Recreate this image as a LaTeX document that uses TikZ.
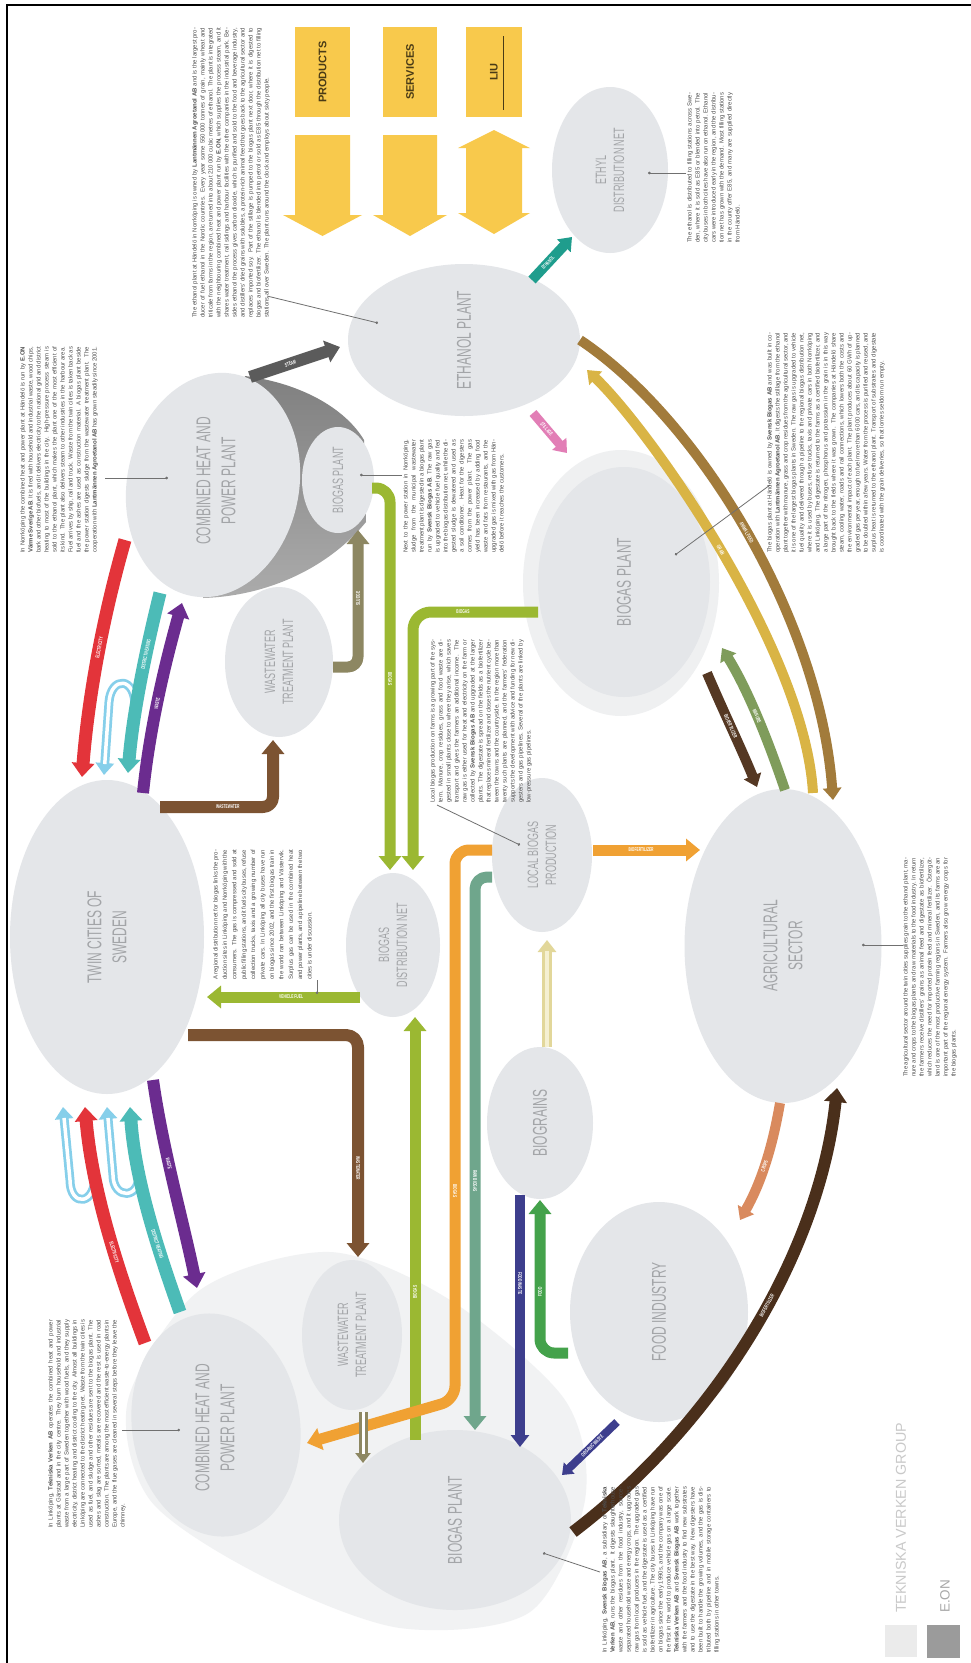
\documentclass[tikz,border=0pt]{standalone}
\usepackage{fontspec}
\setmainfont{Liberation Sans}
\newfontfamily\condensed[FakeStretch=0.6]{Liberation Sans}
\usetikzlibrary{arrows.meta,shapes.geometric}
\definecolor{blobc}{HTML}{E4E6E9}
\definecolor{lbltext}{HTML}{A3A5A8}
\definecolor{haloc}{HTML}{EFF0F1}
\definecolor{bighalo}{HTML}{F1F2F3}
\definecolor{coneA}{HTML}{808080}
\definecolor{coneB}{HTML}{ABABAB}
\definecolor{cRed}{HTML}{E3343A}
\definecolor{cTeal}{HTML}{4CBBB7}
\definecolor{cLB}{HTML}{86CFEA}
\definecolor{cPur}{HTML}{6B2C8F}
\definecolor{cBrn}{HTML}{7C5332}
\definecolor{cOlv}{HTML}{8D8762}
\definecolor{cGrn}{HTML}{9BB832}
\definecolor{cOra}{HTML}{F0A133}
\definecolor{cSage}{HTML}{6FA68C}
\definecolor{cPale}{HTML}{E2D79A}
\definecolor{cPaleIn}{HTML}{F5F0D2}
\definecolor{cNavy}{HTML}{3D3E8D}
\definecolor{cGrnF}{HTML}{44A24B}
\definecolor{cDbr}{HTML}{4A2F1B}
\definecolor{cSal}{HTML}{D98A5E}
\definecolor{cBrU}{HTML}{553823}
\definecolor{cOlV}{HTML}{7F9C5B}
\definecolor{cGold}{HTML}{D9B445}
\definecolor{cBGold}{HTML}{A27B3B}
\definecolor{cPink}{HTML}{E27EB6}
\definecolor{cTealZ}{HTML}{1F9D8D}
\definecolor{cSteam}{HTML}{5B5B5B}
\definecolor{yel}{HTML}{F8C94C}
\definecolor{ytext}{HTML}{4A3B16}
\definecolor{bodyc}{HTML}{4E4E4E}
\definecolor{ptrc}{HTML}{707070}
\definecolor{legl}{HTML}{EBEBEB}
\definecolor{legd}{HTML}{9B9B9B}
\definecolor{legtxt}{HTML}{C9C9C9}
\definecolor{legtxtb}{HTML}{A8A8A8}
\begin{document}
\begin{tikzpicture}[x=1pt,y=-1pt,
  blob/.style={ellipse, fill=blobc, inner sep=0pt, outer sep=0pt},
  bigtxt/.style={font=\condensed\fontsize{20}{25}\selectfont, text=lbltext, align=center},
  smalltxt/.style={font=\condensed\fontsize{15}{18}\selectfont, text=lbltext, align=center},
  flowlbl/.style={font=\condensed\bfseries\fontsize{5.5}{5.5}\selectfont, text=white, sloped, inner sep=0pt},
  textblk/.style={rotate=90, anchor=north west, inner sep=0pt, text=bodyc, align=justify, font=\fontsize{6}{8}\selectfont},
  ptr/.style={draw=ptrc, line width=0.8pt, -{Circle[length=2.6pt]}},
  band/.style={line width=#1, line cap=butt, line join=round},
  tipL/.style={-{Triangle[width=22pt,length=14pt]}},
  tipM/.style={-{Triangle[width=18pt,length=12pt]}},
  tipS/.style={-{Triangle[width=15pt,length=10pt]}},
  ybox/.style={rectangle, fill=yel, inner sep=0pt, text=ytext, font=\bfseries\fontsize{11}{12}\selectfont}
]
\useasboundingbox (0,0) rectangle (971,1663);
\fill[white] (0,0) rectangle (971,1663);
\draw[line width=2pt] (7,1663) -- (7,5) -- (971,5);

% ---------- soft backdrops ----------
\fill[bighalo] plot[smooth cycle] coordinates {(200,1290) (330,1252) (450,1300) (565,1400) (585,1500) (530,1612) (400,1628) (260,1575) (150,1500) (128,1400)};
\node[blob, fill=haloc, rotate=90, minimum width=266pt, minimum height=196pt] (bgRhalo) at (621,583) {};
\shade[top color=coneA, bottom color=coneB] (245,376) .. controls (300,383) and (345,408) .. (364,440) -- (366,522) .. controls (330,566) and (270,596) .. (203,598) -- cycle;

% ---------- plants and sectors ----------
\node[blob, bigtxt, rotate=90, minimum width=314pt, minimum height=194pt] (twin) at (107,937) {TWIN CITIES OF\\SWEDEN};
\node[blob, rotate=79, minimum width=226pt, minimum height=172pt] (chpT) at (213,485) {};
\node[bigtxt, rotate=90] (chpTlbl) at (216,481) {COMBINED HEAT AND\\POWER PLANT};
\node[blob, smalltxt, rotate=90, minimum width=106pt, minimum height=72pt] (bgS) at (338,480) {BIOGAS PLANT};
\node[blob, smalltxt, rotate=90, minimum width=150pt, minimum height=108pt] (wwT) at (279,662) {WASTEWATER\\TREATMENT PLANT};
\node[blob, bigtxt, rotate=90, minimum width=152pt, minimum height=232pt] (eth) at (464,340) {ETHANOL PLANT};
\node[blob, smalltxt, rotate=90, minimum width=166pt, minimum height=116pt] (ethD) at (610,170) {ETHYL\\DISTRIBUTION NET};
\node[blob, bigtxt, rotate=90, minimum width=230pt, minimum height=172pt] (bgR) at (624,582) {BIOGAS PLANT};
\node[blob, smalltxt, rotate=90, minimum width=144pt, minimum height=94pt] (bgD) at (393,945) {BIOGAS\\DISTRIBUTION NET};
\node[blob, smalltxt, rotate=90, minimum width=154pt, minimum height=100pt] (loc) at (542,855) {LOCAL BIOGAS\\PRODUCTION};
\node[blob, bigtxt, rotate=90, minimum width=314pt, minimum height=197pt] (agri) at (783,946) {AGRICULTURAL\\SECTOR};
\node[blob, bigtxt, rotate=90, minimum width=152pt, minimum height=106pt] (grain) at (540,1123) {BIOGRAINS};
\node[blob, bigtxt, rotate=90, minimum width=220pt, minimum height=178pt] (food) at (659,1312) {FOOD INDUSTRY};
\node[blob, smalltxt, rotate=90, minimum width=150pt, minimum height=100pt] (wwB) at (352,1335) {WASTEWATER\\TREATMENT PLANT};
\node[blob, rotate=98, minimum width=224pt, minimum height=168pt] (chpB) at (216,1425) {};
\node[bigtxt, rotate=90] (chpBlbl) at (215,1428) {COMBINED HEAT AND\\POWER PLANT};
\node[blob, bigtxt, rotate=90, minimum width=180pt, minimum height=232pt] (bgB) at (455,1520) {BIOGAS PLANT};

% ---------- connector end points ----------
\coordinate (r1-s) at (125,540);  \coordinate (r1-e) at (82,777);
\coordinate (t1-s) at (160,593);  \coordinate (t1-e) at (128,773);
\coordinate (lb1-s) at (135,708); \coordinate (lb1-e) at (104,775);
\coordinate (p1-s) at (143,793);  \coordinate (p1-e) at (182,603);
\coordinate (r2-s) at (145,1343); \coordinate (r2-e) at (85,1107);
\coordinate (t2-s) at (180,1312); \coordinate (t2-e) at (130,1107);
\coordinate (lb2-s) at (95,1172); \coordinate (lb2-e) at (63,1107);
\coordinate (lb3-s) at (139,1172);\coordinate (lb3-e) at (107,1107);
\coordinate (p2-s) at (153,1080); \coordinate (p2-e) at (197,1288);
\coordinate (w1-s) at (160,807);  \coordinate (w1-e) at (273,740);
\coordinate (s1-s) at (333,667);  \coordinate (s1-e) at (358,530);
\coordinate (g1-s) at (372,488);  \coordinate (g1-e) at (390,870);
\coordinate (g2-s) at (538,612);  \coordinate (g2-e) at (413,870);
\coordinate (g3-s) at (360,997);  \coordinate (g3-e) at (207,997);
\coordinate (w2-s) at (188,1035); \coordinate (w2-e) at (358,1257);
\coordinate (g4-s) at (415,1440); \coordinate (g4-e) at (415,1017);
\coordinate (o1-s) at (492,850);  \coordinate (o1-e) at (307,1443);
\coordinate (m1-s) at (492,877);  \coordinate (m1-e) at (475,1430);
\coordinate (o2-s) at (593,850);  \coordinate (o2-e) at (700,850);
\coordinate (pl-s) at (547,1047); \coordinate (pl-e) at (547,940);
\coordinate (n1-s) at (520,1195); \coordinate (n1-e) at (520,1447);
\coordinate (f1-s) at (568,1353); \coordinate (f1-e) at (540,1200);
\coordinate (n2-s) at (617,1422); \coordinate (n2-e) at (562,1475);
\coordinate (d1-s) at (573,1532); \coordinate (d1-e) at (837,1088);
\coordinate (sa-s) at (780,1103); \coordinate (sa-e) at (740,1220);
\coordinate (u1-s) at (707,673);  \coordinate (u1-e) at (757,787);
\coordinate (v1-s) at (785,790);  \coordinate (v1-e) at (722,648);
\coordinate (go-s) at (813,793);  \coordinate (go-e) at (587,370);
\coordinate (bg-s) at (580,340);  \coordinate (bg-e) at (833,800);
\coordinate (pk-s) at (533,413);  \coordinate (pk-e) at (567,453);
\coordinate (tz-s) at (532,280);  \coordinate (tz-e) at (572,237);
\coordinate (st-s) at (250,377);  \coordinate (st-e) at (340,347);
\coordinate (ob-s) at (363,1412); \coordinate (ob-e) at (363,1463);

% ---------- flows between the CHP plants and the twin cities ----------
\draw[band=9pt, cLB, tipM, postaction={draw=white, line width=3.5pt, -, shorten >=11pt}] (lb1-s) .. controls (136,676) and (111,676) .. (109,702) -- (lb1-e);
\draw[band=13pt, cRed, tipL] (r1-s) .. controls (102,620) and (88,700) .. (r1-e) node[flowlbl, pos=0.45] {ELECTRICITY};
\draw[band=13pt, cTeal, tipL] (t1-s) .. controls (146,650) and (133,712) .. (t1-e) node[flowlbl, pos=0.35] {DISTRICT HEATING};
\draw[band=12pt, cPur, tipL] (p1-s) .. controls (150,725) and (166,660) .. (p1-e) node[flowlbl, pos=0.45] {WASTE};

\draw[band=9pt, cLB, tipM, postaction={draw=white, line width=3.5pt, -, shorten >=11pt}] (lb2-s) .. controls (97,1206) and (70,1208) .. (70,1180) -- (lb2-e);
\draw[band=9pt, cLB, tipM, postaction={draw=white, line width=3.5pt, -, shorten >=11pt}] (lb3-s) .. controls (141,1200) and (113,1200) .. (113,1175) -- (lb3-e);
\draw[band=13pt, cRed, tipL] (r2-s) .. controls (118,1270) and (92,1190) .. (r2-e) node[flowlbl, pos=0.4] {ELECTRICITY};
\draw[band=13pt, cTeal, tipL] (t2-s) .. controls (158,1250) and (135,1180) .. (t2-e) node[flowlbl, pos=0.35] {DISTRICT HEATING};
\draw[band=12pt, cPur, tipL] (p2-s) .. controls (163,1150) and (183,1220) .. (p2-e) node[flowlbl, pos=0.4] {WASTE};

% ---------- wastewater, sludge and biogas ----------
\draw[band=12pt, cBrn, tipL, rounded corners=10pt] (w1-s) -| (w1-e) node[flowlbl, pos=0.3] {WASTEWATER};
\draw[band=11pt, cOlv, tipL, rounded corners=10pt] (s1-s) -| (s1-e) node[flowlbl, pos=0.75] {SLUDGE};
\draw[band=11pt, cGrn, tipL, rounded corners=14pt] (g1-s) -| (g1-e) node[flowlbl, pos=0.75] {BIOGAS};
\draw[band=11pt, cGrn, tipL, rounded corners=18pt] (g2-s) -| (g2-e) node[flowlbl, pos=0.3] {BIOGAS};
\draw[band=11pt, cGrn, tipL] (g3-s) -- (g3-e) node[flowlbl, pos=0.45] {VEHICLE FUEL};
\draw[band=12pt, cBrn, tipL, rounded corners=12pt] (w2-s) -| (w2-e) node[flowlbl, pos=0.8] {WASTEWATER};
\draw[band=11pt, cGrn, tipL] (g4-s) -- (g4-e) node[flowlbl, pos=0.35] {BIOGAS};
\draw[band=11pt, cOra, tipL, rounded corners=14pt] (o1-s) -- (455,850) -- (455,1400) node[flowlbl, pos=0.62] {BIOGAS} -- (o1-e);
\draw[band=11pt, cSage, tipL, rounded corners=12pt] (m1-s) -- (475,877) -- (m1-e) node[flowlbl, pos=0.55] {RAW BIOGAS};
\draw[band=11pt, cOra, tipL] (o2-s) -- (o2-e) node[flowlbl, pos=0.45] {BIOFERTILIZER};
\draw[band=10pt, cPale, tipM, postaction={draw=cPaleIn, line width=4pt, -, shorten >=11pt}] (pl-s) -- (pl-e);
\draw[band=10pt, cNavy, tipM] (n1-s) -- (n1-e) node[flowlbl, pos=0.35] {FOOD WASTE};
\draw[band=11pt, cGrnF, tipL, rounded corners=14pt] (f1-s) -| (f1-e) node[flowlbl, pos=0.7] {FOOD};
\draw[band=8pt, cNavy, tipS] (n2-s) -- (n2-e) node[flowlbl, pos=0.45] {ORGANIC WASTE};
\draw[band=9pt, cOlv, tipS, postaction={draw=white, line width=3pt, -, shorten >=9pt}] (ob-s) -- (ob-e);

% ---------- agriculture, ethanol and food ----------
\draw[band=12pt, cDbr, tipL] (d1-s) .. controls (720,1420) and (820,1250) .. (d1-e) node[flowlbl, pos=0.55] {BIOFERTILIZER};
\draw[band=10pt, cSal, tipM] (sa-s) .. controls (772,1150) and (760,1185) .. (sa-e) node[flowlbl, pos=0.5] {CROPS};
\draw[band=10pt, cBrU, tipM] (u1-s) .. controls (725,715) and (742,750) .. (u1-e) node[flowlbl, pos=0.45] {BIOFERTILIZER};
\draw[band=10pt, cOlV, tipM] (v1-s) .. controls (768,740) and (748,690) .. (v1-e) node[flowlbl, pos=0.5] {MANURE};
\draw[band=10pt, cGold, tipM] (go-s) .. controls (805,650) and (650,430) .. (go-e) node[flowlbl, pos=0.5] {GRAIN};
\draw[band=10pt, cBGold, tipM] (bg-s) .. controls (700,420) and (820,620) .. (bg-e) node[flowlbl, pos=0.5] {ANIMAL FEED};
\draw[band=9pt, cPink, tipM] (pk-s) -- (pk-e) node[flowlbl, pos=0.4] {STILLAGE};
\draw[band=10pt, cTealZ, tipM] (tz-s) -- (tz-e) node[flowlbl, pos=0.4] {ETHANOL};
\draw[band=12pt, cSteam, tipL] (st-s) -- (st-e) node[flowlbl, pos=0.45] {STEAM};

% ---------- descriptions ----------
\coordinate (q-eth-a) at (267,296);  \coordinate (q-eth-b) at (378,323);
\coordinate (q-chpT-a) at (105,478); \coordinate (q-chpT-b) at (168,478);
\coordinate (q-bgS-a) at (402,475);  \coordinate (q-bgS-b) at (360,475);
\coordinate (q-bgR-a) at (770,485);  \coordinate (q-bgR-b) at (675,555);
\coordinate (q-loc-a) at (437,805);  \coordinate (q-loc-b) at (520,845);
\coordinate (q-bgD-a) at (317,980);  \coordinate (q-bgD-b) at (317,994);
\coordinate (q-agri-a) at (903,945); \coordinate (q-agri-b) at (862,945);
\coordinate (q-ethD-a) at (686,173); \coordinate (q-ethD-b) at (648,173);
\coordinate (q-chpB-a) at (122,1430);\coordinate (q-chpB-b) at (180,1430);
\coordinate (q-bgB-a) at (600,1572); \coordinate (q-bgB-b) at (543,1553);
\foreach \p in {eth,chpT,bgS,bgR,loc,bgD,agri,ethD,chpB,bgB} \draw[ptr] (q-\p-a) -- (q-\p-b);

\node[textblk, text width=290pt] (tbEth) at (192,318) {The ethanol plant at Händelö in Norrköping is owned by \textbf{Lantmännen Agroetanol AB} and is the largest producer of fuel ethanol in the Nordic countries. Every year some 550\,000 tonnes of grain, mainly wheat and triticale from farms in the region, are turned into about 210\,000 cubic metres of ethanol. The plant is integrated with the neighbouring combined heat and power plant run by \textbf{E.ON}, which supplies the process steam, and it shares water treatment, rail sidings and harbour facilities with the other companies in the industrial park. Besides ethanol the process gives carbon dioxide, which is purified and sold to the food and beverage industry, and distillers' dried grains with solubles, a protein-rich animal feed that goes back to the agricultural sector and replaces imported soy. Part of the stillage is pumped to the biogas plant next door, where it is digested to biogas and biofertilizer. The ethanol is blended into petrol or sold as E85 through the distribution net to filling stations all over Sweden. The plant runs around the clock and employs about sixty people.};

\node[textblk, text width=206pt] (tbChpT) at (20,553) {In Norrköping the combined heat and power plant at Händelö is run by \textbf{E.ON Värme Sverige AB}. It is fired with household and industrial waste, wood chips, bark and other biofuels, and it delivers electricity to the national grid and district heating to most of the buildings in the city. High-pressure process steam is sold to the ethanol plant, which makes the plant one of the most efficient of its kind. The plant also delivers steam to other industries in the harbour area. Fuel arrives by ship, rail and truck. Waste from the twin cities is taken back as fuel and the ashes are used as construction material. A biogas plant beside the power station digests sludge from the wastewater treatment plant. The cooperation with \textbf{Lantmännen Agroetanol AB} has grown steadily since 2001.};

\node[textblk, text width=113pt] (tbBgS) at (403,553) {Next to the power station in Norrköping, sludge from the municipal wastewater treatment plant is digested in a biogas plant run by \textbf{Svensk Biogas AB}. The raw gas is upgraded to vehicle fuel quality and fed into the biogas distribution net, while the digested sludge is dewatered and used as a soil conditioner. Heat for the digesters comes from the power plant. The gas yield has been increased by adding food waste and fats from restaurants, and the upgraded gas is mixed with gas from Händelö before it reaches the customers.};

\node[textblk, text width=163pt] (tbLoc) at (430,803) {Local biogas production on farms is a growing part of the system. Manure, crop residues, grass and food waste are digested in small plants close to where they arise, which saves transport and gives the farmers an additional income. The raw gas is either used for heat and electricity on the farm or collected by \textbf{Svensk Biogas AB} and upgraded at the larger plants. The digestate is spread on the fields as a biofertilizer that replaces mineral fertilizer and closes the nutrient cycle between the towns and the countryside. In the region more than twenty such plants are planned, and the farmers' federation supports the development with advice and funding for new digesters and gas pipelines. Several of the plants are linked by low-pressure gas pipelines.};

\node[textblk, text width=220pt] (tbBgR) at (767,553) {The biogas plant at Händelö is owned by \textbf{Svensk Biogas AB} and was built in cooperation with \textbf{Lantmännen Agroetanol AB}. It digests the stillage from the ethanol plant together with manure, grass and crop residues from the agricultural sector, and it is one of the largest biogas plants in Sweden. The raw gas is upgraded to vehicle fuel quality and delivered through a pipeline to the regional biogas distribution net, where it is used by buses, refuse trucks, taxis and private cars in both Norrköping and Linköping. The digestate is returned to the farms as a certified biofertilizer, and a large part of the nitrogen, phosphorus and potassium in the grain is in this way brought back to the fields where it was grown. The companies at Händelö share steam, cooling water, roads and rail connections, which lowers both the costs and the environmental impact of each plant. The plant produces about 60 GWh of upgraded gas per year, enough to fuel more than 6\,000 cars, and its capacity is planned to be doubled within a few years. Water from the process is purified and reused, and surplus heat is returned to the ethanol plant. Transport of substrates and digestate is coordinated with the grain deliveries, so that lorries seldom run empty.};

\node[textblk, text width=130pt, font=\fontsize{6}{9.4}\selectfont] (tbBgD) at (213,980) {A regional distribution net for biogas links the production sites in Linköping and Norrköping with the consumers. The gas is compressed and sold at public filling stations, and it fuels city buses, refuse collection trucks, taxis and a growing number of private cars. In Linköping all city buses have run on biogas since 2002, and the first biogas train in the world ran between Linköping and Västervik. Surplus gas can be used in the combined heat and power plants, and a pipeline between the two cities is under discussion.};

\node[textblk, text width=219pt] (tbAgri) at (903,1077) {The agricultural sector around the twin cities supplies grain to the ethanol plant, manure and crops to the biogas plants and raw materials to the food industry. In return the farmers receive distillers' grains as animal feed and digestate as biofertilizer, which reduces the need for imported protein feed and mineral fertilizer. Östergötland is one of the most productive farming regions in Sweden, and its farms are an important part of the regional energy system. Farmers also grow energy crops for the biogas plants.};

\node[textblk, text width=208pt] (tbChpB) at (48,1528) {In Linköping, \textbf{Tekniska Verken AB} operates the combined heat and power plants at Gärstad and in the city centre. They burn household and industrial waste from a large part of Sweden together with wood fuels, and they supply electricity, district heating and district cooling to the city. Almost all buildings in Linköping are connected to the district heating net. Waste from the twin cities is used as fuel, and sludge and other residues are sent to the biogas plant. The ashes and slag are sorted, metals are recovered and the rest is used in road construction. The plants are among the most efficient waste-to-energy plants in Europe, and the flue gases are cleaned in several steps before they leave the chimney.};

\node[textblk, text width=166pt] (tbBgB) at (602,1653) {In Linköping, \textbf{Svensk Biogas AB}, a subsidiary of \textbf{Tekniska Verken AB}, runs the biogas plant. It digests slaughterhouse waste and other residues from the food industry, source-separated household waste and energy crops, and it upgrades raw gas from local producers in the region. The upgraded gas is sold as vehicle fuel, and the digestate is used as a certified biofertilizer in agriculture. The city buses in Linköping have run on biogas since the early 1990s, and the company was one of the first in the world to produce vehicle gas on a large scale. \textbf{Tekniska Verken AB} and \textbf{Svensk Biogas AB} work together with the farmers and the food industry to find new substrates and to use the digestate in the best way. New digesters have been built to handle the growing volumes, and the gas is distributed both by pipeline and in mobile storage containers to filling stations in other towns.};

\node[textblk, text width=150pt] (tbEthD) at (687,243) {The ethanol is distributed to filling stations across Sweden, where it is sold as E85 or blended into petrol. The city buses in both cities have also run on ethanol. Ethanol cars were introduced early in the region, and the distribution net has grown with the demand. Most filling stations in the county offer E85, and many are supplied directly from Händelö.};

% ---------- key: products, services, university ----------
\node[ybox, rotate=90, minimum width=90pt, minimum height=55pt] (prod) at (322.5,72) {PRODUCTS};
\node[ybox, rotate=90, minimum width=90pt, minimum height=54pt] (serv) at (410,72) {SERVICES};
\node[ybox, rotate=90, minimum width=90pt, minimum height=56pt] (liu) at (494,72) {LIU};
\draw[ytext, line width=0.6pt] (503,36) -- (503,110);
\fill[yel] (295,135) -- (350,135) -- (350,215) -- (362,215) -- (322.5,236) -- (283,215) -- (295,215) -- cycle;
\fill[yel] (383,135) -- (437,135) -- (437,215) -- (447,215) -- (410,236) -- (373,215) -- (383,215) -- cycle;
\fill[yel] (494,130) -- (530,148) -- (522,148) -- (522,213) -- (530,213) -- (494,234) -- (458,213) -- (466,213) -- (466,148) -- (458,148) -- cycle;

% ---------- owners ----------
\node[fill=legl, minimum size=32pt, inner sep=0pt] (legTV) at (901,1641) {};
\node[fill=legd, minimum size=33pt, inner sep=0pt] (legEON) at (943.5,1641) {};
\node[rotate=90, anchor=west, inner sep=0pt, text=legtxt, font=\fontsize{14.3}{16}\selectfont] (legTVt) at (901,1613) {TEKNISKA VERKEN GROUP};
\node[rotate=90, anchor=west, inner sep=0pt, text=legtxtb, font=\fontsize{13.5}{16}\selectfont] (legEONt) at (945,1613) {E.ON};
\end{tikzpicture}
\end{document}
